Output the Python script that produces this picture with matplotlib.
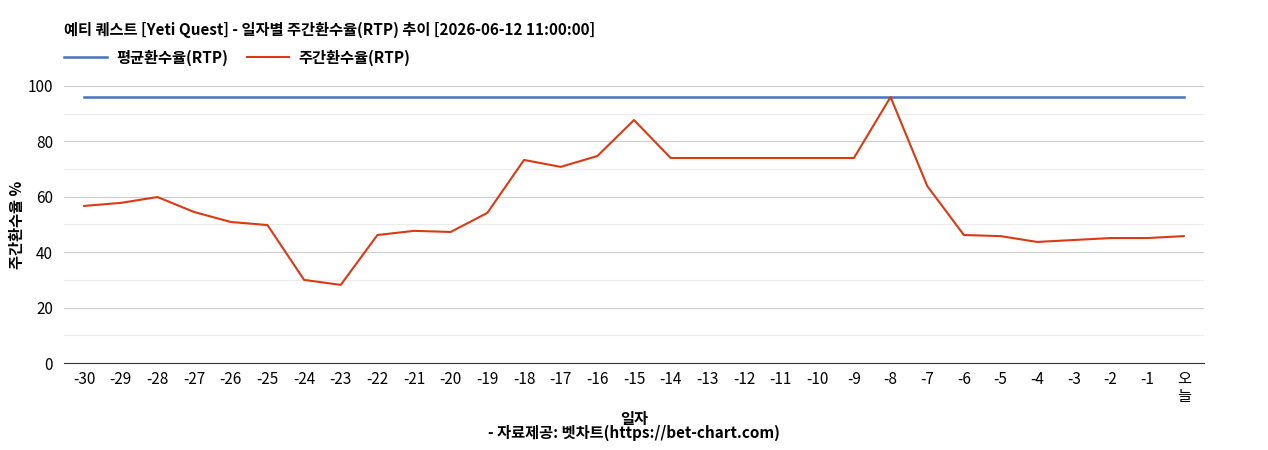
import matplotlib
matplotlib.use("Agg")
import matplotlib.pyplot as plt

plt.rcParams["font.family"] = ["Noto Sans CJK KR", "DejaVu Sans"]

days = [str(d) for d in range(-30, 0)] + ["오\n늘"]
weekly_rtp = [56.7, 57.8, 59.9, 54.5, 50.9, 49.8, 30.0, 28.2, 46.2, 47.7, 47.3,
              54.2, 73.3, 70.8, 74.7, 87.7, 74.0, 74.0, 74.0, 74.0, 74.0, 74.0,
              96.0, 63.9, 46.2, 45.8, 43.7, 44.4, 45.1, 45.1, 45.8]
avg_rtp = [96.0] * len(days)

fig = plt.figure(figsize=(12.68, 4.5), dpi=100)
ax = fig.add_axes([0.0505, 0.1933, 0.899, 0.6157])
x = list(range(len(days)))
ax.plot(x, avg_rtp, color="#4472c4", lw=1.8, label="평균환수율(RTP)")
ax.plot(x, weekly_rtp, color="#dc3912", lw=1.5, label="주간환수율(RTP)")

ax.set_xlim(-0.55, len(days) - 0.45)
ax.set_ylim(0, 100)
ax.set_yticks(range(0, 101, 20))
ax.set_yticks(range(10, 100, 20), minor=True)
ax.grid(axis="y", which="major", color="#cccccc", lw=0.8)
ax.grid(axis="y", which="minor", color="#ebebeb", lw=0.8)
ax.set_axisbelow(True)
ax.set_xticks(x)
ax.set_xticklabels(days, fontsize=11, linespacing=1.0)
ax.tick_params(axis="y", which="both", labelsize=11, length=0, pad=8)
ax.tick_params(axis="x", length=0, pad=6)
for s in ("top", "right", "left"):
    ax.spines[s].set_visible(False)
ax.spines["bottom"].set_color("#333333")

ax.set_xlabel("일자", fontsize=11, fontweight="bold", labelpad=4)
ax.set_ylabel("주간환수율 %", fontsize=11, fontweight="bold", labelpad=2)
fig.text(0.5, 0.028, "- 자료제공: 벳차트(https://bet-chart.com)", ha="center",
         fontsize=11, fontweight="bold")
fig.text(0.0505, 0.933, "예티 퀘스트 [Yeti Quest] - 일자별 주간환수율(RTP) 추이 [2026-06-12 11:00:00]",
         fontsize=11, fontweight="bold", va="center")
ax.legend(loc="lower left", bbox_to_anchor=(-0.005, 1.05), ncol=2, frameon=False,
          prop={"size": 11, "weight": "bold"}, handlelength=2.8,
          borderaxespad=0, columnspacing=1.2, handletextpad=0.6)

fig.savefig("out.png", dpi=100)
